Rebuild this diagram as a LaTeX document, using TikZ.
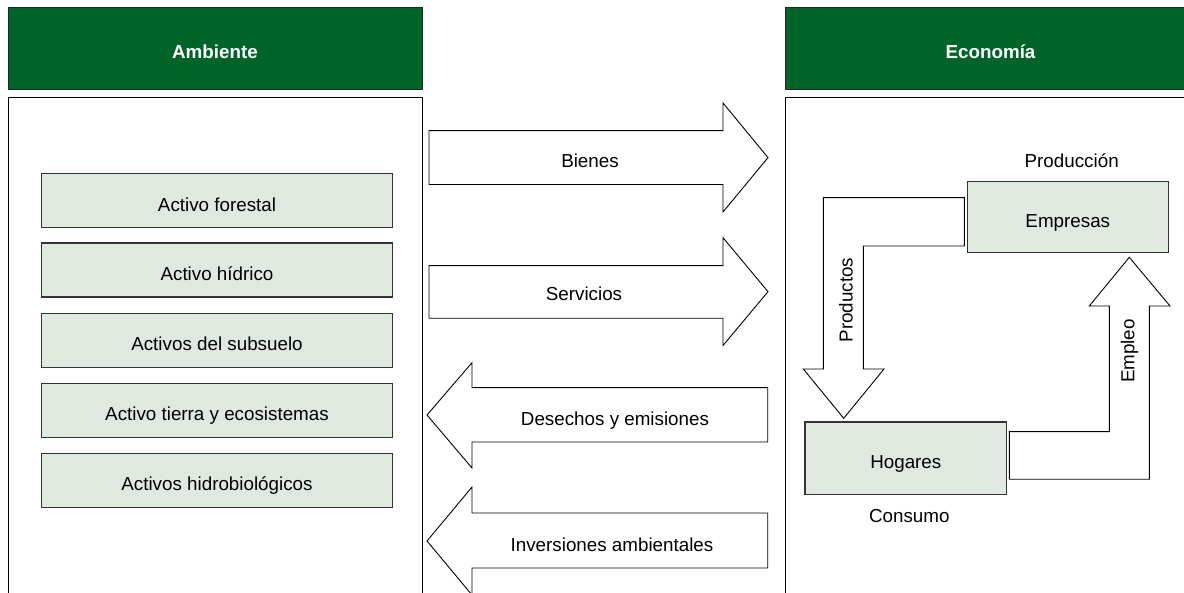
\documentclass[tikz,border=0pt]{standalone}
\usepackage{fontspec}
\setmainfont{Liberation Sans}
\definecolor{hdrgreen}{HTML}{006428}
\definecolor{boxfill}{HTML}{E0E9E0}
\definecolor{boxline}{HTML}{333333}
\newcommand{\lblfont}{\fontsize{18.8}{21}\selectfont}
\tikzset{
  hdr/.style={draw=black!85, line width=0.8pt, fill=hdrgreen, text=white,
    font=\fontsize{18.8}{21}\selectfont\bfseries, minimum height=82, inner sep=0,
    text height=21, text depth=0.5},
  panel/.style={draw=black, line width=1pt, inner sep=0},
  asset/.style={draw=boxline, line width=1.2pt, fill=boxfill, minimum width=351,
    minimum height=54, font=\lblfont, inner sep=0, text height=21, text depth=0.5},
  flow/.style={draw=black, line width=0.9pt, fill=white, line join=miter},
  lbl/.style={font=\lblfont, inner sep=0},
}
\begin{document}
\begin{tikzpicture}[x=1pt,y=-1pt]
\useasboundingbox (0,0) rectangle (1184,593);
\clip (0,0) rectangle (1184,593);
\fill[white] (0,0) rectangle (1184,593);

% headers
\node[hdr, minimum width=414] (hamb) at (215,48) {Ambiente};
\node[hdr, minimum width=411] (heco) at (990.5,48) {Economía};

% panels
\node[panel, minimum width=414, minimum height=510, anchor=north west] (pamb) at (8,97) {};
\node[panel, minimum width=420, minimum height=510, anchor=north west] (peco) at (785,97) {};

% assets
\node[asset] (a1) at (217,200.8) {Activo forestal};
\node[asset] (a2) at (217,270) {Activo hídrico};
\node[asset] (a3) at (217,340.3) {Activos del subsuelo};
\node[asset] (a4) at (217,410.7) {Activo tierra y ecosistemas};
\node[asset] (a5) at (217,480.7) {Activos hidrobiológicos};

% big flow arrows
\draw[flow] (429,130.7) -- (723,130.7) -- (723,103) -- (768,157.6) -- (723,212) -- (723,184.5) -- (429,184.5) -- cycle;
\node[lbl] (bienes) at (590,161) {Bienes};
\draw[flow] (429,265.7) -- (723,265.7) -- (723,237.7) -- (768,291.7) -- (723,345.5) -- (723,318.3) -- (429,318.3) -- cycle;
\node[lbl] (servicios) at (584,294) {Servicios};
\draw[flow] (767.7,387.7) -- (472,387.7) -- (472,362.7) -- (427,415) -- (472,468) -- (472,442) -- (767.7,442) -- cycle;
\node[lbl] (desechos) at (615,421) {Desechos y emisiones};
\draw[flow] (767.7,513) -- (472,513) -- (472,487) -- (427,541) -- (472,595) -- (472,568) -- (767.7,568) -- cycle;
\node[lbl] (inversiones) at (612,545) {Inversiones ambientales};

% bent arrows in economy
\draw[flow] (964.3,197.7) -- (823.3,197.7) -- (823.3,369) -- (803.3,369) -- (843.7,418.3) -- (884,369) -- (863.3,369) -- (863.3,246) -- (964.3,246) -- cycle;
\draw[flow] (1009.3,431.7) -- (1109.3,431.7) -- (1109.3,306) -- (1089.3,306) -- (1129.3,257.3) -- (1170,306) -- (1149.3,306) -- (1149.3,479.3) -- (1009.3,479.3) -- cycle;
\node[lbl, rotate=90] (productos) at (846,300) {Productos};
\node[lbl, rotate=90] (empleo) at (1129.5,351) {Empleo};

% economy boxes
\node[asset, minimum width=201, minimum height=71] (empresas) at (1067.8,217.2) {Empresas};
\node[asset, minimum width=201.7, minimum height=72.3] (hogares) at (905.8,458.2) {Hogares};
\node[lbl] (produccion) at (1071.7,161) {Producción};
\node[lbl] (consumo) at (909.3,516) {Consumo};
\end{tikzpicture}
\end{document}
